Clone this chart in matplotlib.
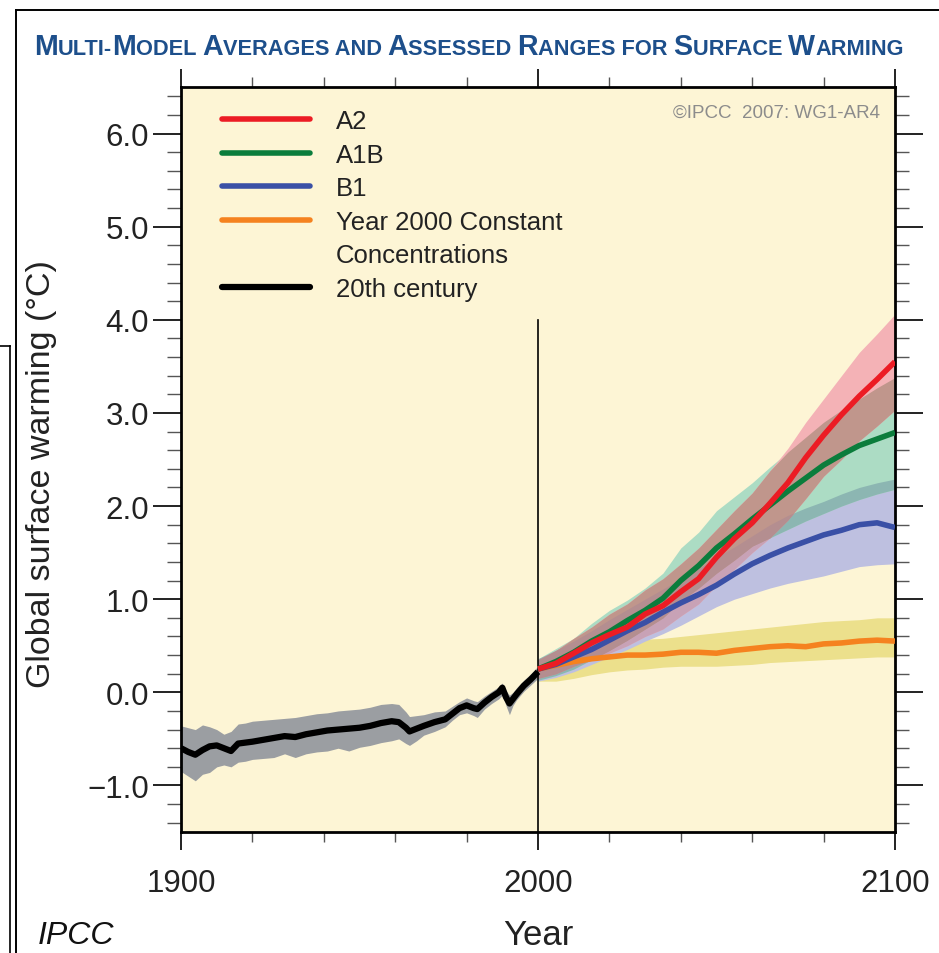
import matplotlib
matplotlib.use("Agg")
import numpy as np
import matplotlib.pyplot as plt
from matplotlib.lines import Line2D
from matplotlib.offsetbox import TextArea, HPacker, AnchoredOffsetbox
from matplotlib.ticker import MultipleLocator, FixedLocator, FuncFormatter

plt.rcParams['font.family'] = ['Liberation Sans', 'DejaVu Sans']

# ---- 20th century simulations (multi-model mean and range) ----
hist_years = [1900, 1902, 1904, 1906, 1908, 1910, 1912, 1914, 1916, 1918,
              1920, 1923, 1926, 1929, 1932, 1935, 1938, 1941, 1944, 1947,
              1950, 1953, 1956, 1959, 1961, 1963, 1964, 1966, 1968, 1971,
              1974, 1976, 1978, 1980, 1982, 1983, 1985, 1987, 1989, 1990,
              1991, 1992, 1993, 1994, 1996, 1998, 2000]
hist_mean = [-0.60, -0.64, -0.67, -0.62, -0.58, -0.57, -0.60, -0.63, -0.55, -0.54,
             -0.53, -0.51, -0.49, -0.47, -0.48, -0.45, -0.43, -0.41, -0.40, -0.39,
             -0.38, -0.36, -0.33, -0.31, -0.32, -0.38, -0.42, -0.39, -0.36, -0.32,
             -0.29, -0.23, -0.17, -0.14, -0.17, -0.18, -0.11, -0.05, 0.00, 0.05,
             -0.05, -0.12, -0.07, -0.02, 0.07, 0.14, 0.22]
hist_lo = [-0.85, -0.90, -0.95, -0.88, -0.86, -0.80, -0.78, -0.80, -0.75, -0.74,
           -0.72, -0.71, -0.70, -0.66, -0.70, -0.66, -0.64, -0.63, -0.60, -0.63,
           -0.59, -0.57, -0.54, -0.52, -0.50, -0.55, -0.57, -0.52, -0.46, -0.42,
           -0.37, -0.30, -0.24, -0.22, -0.25, -0.27, -0.18, -0.12, -0.07, -0.03,
           -0.14, -0.24, -0.14, -0.08, 0.01, 0.08, 0.15]
hist_hi = [-0.36, -0.38, -0.40, -0.35, -0.37, -0.40, -0.45, -0.42, -0.34, -0.33,
           -0.31, -0.30, -0.29, -0.28, -0.27, -0.25, -0.23, -0.22, -0.20, -0.19,
           -0.18, -0.16, -0.13, -0.12, -0.13, -0.21, -0.26, -0.25, -0.24, -0.21,
           -0.20, -0.15, -0.10, -0.06, -0.09, -0.10, -0.04, 0.01, 0.06, 0.10,
           0.02, -0.03, 0.00, 0.05, 0.13, 0.20, 0.28]

# ---- 21st century scenario projections ----
proj_years = [2000, 2005, 2010, 2015, 2020, 2025, 2030, 2035, 2040, 2045, 2050,
              2055, 2060, 2065, 2070, 2075, 2080, 2085, 2090, 2095, 2100]

a2_mean = [0.25, 0.31, 0.42, 0.53, 0.62, 0.70, 0.84, 0.93, 1.08, 1.22, 1.45,
           1.65, 1.82, 2.03, 2.25, 2.52, 2.76, 2.98, 3.18, 3.36, 3.55]
a2_lo = [0.15, 0.20, 0.28, 0.35, 0.42, 0.50, 0.60, 0.68, 0.82, 0.95, 1.15,
         1.32, 1.50, 1.66, 1.85, 2.08, 2.32, 2.50, 2.70, 2.86, 3.03]
a2_hi = [0.35, 0.45, 0.58, 0.70, 0.84, 0.95, 1.10, 1.22, 1.38, 1.55, 1.75,
         1.95, 2.14, 2.38, 2.62, 2.90, 3.15, 3.40, 3.65, 3.85, 4.06]

a1b_mean = [0.25, 0.33, 0.43, 0.55, 0.65, 0.77, 0.88, 1.01, 1.20, 1.36, 1.55,
            1.70, 1.86, 2.01, 2.16, 2.30, 2.44, 2.55, 2.65, 2.72, 2.79]
a1b_lo = [0.13, 0.18, 0.25, 0.35, 0.45, 0.56, 0.68, 0.80, 0.98, 1.12, 1.28,
          1.42, 1.57, 1.66, 1.75, 1.84, 1.92, 2.00, 2.07, 2.13, 2.18]
a1b_hi = [0.36, 0.47, 0.58, 0.74, 0.88, 0.99, 1.12, 1.28, 1.55, 1.72, 1.95,
          2.10, 2.25, 2.42, 2.58, 2.74, 2.90, 3.03, 3.15, 3.27, 3.38]

b1_mean = [0.25, 0.30, 0.38, 0.46, 0.56, 0.66, 0.75, 0.86, 0.96, 1.05, 1.15,
           1.27, 1.38, 1.47, 1.55, 1.62, 1.69, 1.74, 1.80, 1.82, 1.77]
b1_lo = [0.12, 0.16, 0.22, 0.30, 0.38, 0.46, 0.55, 0.63, 0.72, 0.82, 0.92,
         1.00, 1.06, 1.12, 1.17, 1.21, 1.25, 1.30, 1.35, 1.37, 1.38]
b1_hi = [0.36, 0.45, 0.55, 0.66, 0.78, 0.89, 1.00, 1.11, 1.22, 1.33, 1.45,
         1.56, 1.68, 1.80, 1.90, 1.98, 2.05, 2.13, 2.20, 2.25, 2.29]

const_mean = [0.25, 0.29, 0.33, 0.36, 0.38, 0.40, 0.40, 0.41, 0.43, 0.43, 0.42,
              0.45, 0.47, 0.49, 0.50, 0.49, 0.52, 0.53, 0.55, 0.56, 0.55]
const_lo = [0.12, 0.12, 0.15, 0.19, 0.22, 0.24, 0.25, 0.27, 0.28, 0.28, 0.28,
            0.29, 0.30, 0.32, 0.33, 0.34, 0.35, 0.36, 0.37, 0.38, 0.38]
const_hi = [0.35, 0.40, 0.45, 0.49, 0.52, 0.54, 0.57, 0.58, 0.60, 0.62, 0.64,
            0.66, 0.68, 0.70, 0.72, 0.74, 0.76, 0.77, 0.78, 0.80, 0.80]

legend_labels = ["A2", "A1B", "B1", "Year 2000 Constant", "Concentrations", "20th century"]
x_ticks = [1900, 2000, 2100]
y_ticks = [-1, 0, 1, 2, 3, 4, 5, 6]

# colours
C_A2, C_A2_BAND = "#ec1c24", "#f4b2b6"
C_A1B, C_A1B_BAND = "#0b7d3c", "#acdcc4"
C_B1, C_B1_BAND = "#3a50a6", "#bec0e0"
C_CONST, C_CONST_BAND = "#f5821f", "#ece08c"
C_HIST, C_HIST_BAND = "#000000", "#9b9ea2"
# where ranges overlap the tints combine (darker mixes)
C_A2_A1B = "#c0968c"
C_A1B_B1 = "#8cb6b2"
C_A2_B1 = "#c8a2b6"
C_A2_A1B_B1 = "#b48e90"
TEXT = "#222222"

fig = plt.figure(figsize=(9.39, 9.54), dpi=100)
fig.patch.set_facecolor("white")
ax = fig.add_axes([0.1928, 0.1268, 0.7603, 0.7810])
ax.set_facecolor("#fdf5d5")

# uncertainty ranges
ax.fill_between(hist_years, hist_lo, hist_hi, color=C_HIST_BAND, lw=0, zorder=2)
ax.fill_between(proj_years, const_lo, const_hi, color=C_CONST_BAND, lw=0, zorder=2)
ax.fill_between(proj_years, b1_lo, b1_hi, color=C_B1_BAND, lw=0, zorder=2)
ax.fill_between(proj_years, a1b_lo, a1b_hi, color=C_A1B_BAND, lw=0, zorder=2)
ax.fill_between(proj_years, a2_lo, a2_hi, color=C_A2_BAND, lw=0, zorder=2)


def shade_overlap(ranges, color):
    lo = np.max([np.asarray(r[0]) for r in ranges], axis=0)
    hi = np.min([np.asarray(r[1]) for r in ranges], axis=0)
    ax.fill_between(proj_years, lo, hi, where=hi > lo, interpolate=True,
                    color=color, lw=0, zorder=2)


A2_R, A1B_R, B1_R = (a2_lo, a2_hi), (a1b_lo, a1b_hi), (b1_lo, b1_hi)
shade_overlap([A1B_R, B1_R], C_A1B_B1)
shade_overlap([A2_R, B1_R], C_A2_B1)
shade_overlap([A2_R, A1B_R], C_A2_A1B)
shade_overlap([A2_R, A1B_R, B1_R], C_A2_A1B_B1)

# separator at year 2000
ax.plot([2000, 2000], [-1.5, 4.0], color="black", lw=1.2, zorder=3)

# multi-model means
ax.plot(proj_years, const_mean, color=C_CONST, lw=4, zorder=4, solid_capstyle="butt")
ax.plot(proj_years, b1_mean, color=C_B1, lw=4, zorder=4, solid_capstyle="butt")
ax.plot(proj_years, a1b_mean, color=C_A1B, lw=4, zorder=4, solid_capstyle="butt")
ax.plot(proj_years, a2_mean, color=C_A2, lw=4, zorder=5, solid_capstyle="butt")
ax.plot(hist_years, hist_mean, color=C_HIST, lw=4.5, zorder=5, solid_capstyle="butt")

ax.set_xlim(1900, 2100)
ax.set_ylim(-1.5, 6.5)

ax.xaxis.set_major_locator(FixedLocator(x_ticks))
ax.xaxis.set_minor_locator(MultipleLocator(20))
ax.yaxis.set_major_locator(FixedLocator(y_ticks))
ax.yaxis.set_minor_locator(MultipleLocator(0.2))
ax.yaxis.set_major_formatter(FuncFormatter(lambda v, p: f"{v:.1f}".replace("-", "\u2212")))

ax.tick_params(axis="y", which="major", direction="out", length=20, width=1.4,
               left=True, right=True, labelsize=22.5, labelcolor=TEXT, pad=3, color="#222222")
ax.tick_params(axis="y", which="minor", direction="out", length=10, width=1.0,
               left=True, right=True, color="#555555")
ax.tick_params(axis="x", which="major", direction="out", length=13, width=1.4,
               top=True, bottom=True, labelsize=22.5, labelcolor=TEXT, pad=13, color="#222222")
ax.tick_params(axis="x", which="minor", direction="out", length=7, width=1.0,
               top=True, bottom=True, color="#555555")
for s in ax.spines.values():
    s.set_linewidth(2.0)
    s.set_color("black")

ax.set_xlabel("Year", fontsize=25, color=TEXT, labelpad=14)
ax.set_ylabel("Global surface warming (\u00b0C)", fontsize=24.5, color=TEXT)
ax.yaxis.set_label_coords(-0.174, 0.482)

# legend
handles = [Line2D([], [], color=C_A2, lw=4, solid_capstyle="round"),
           Line2D([], [], color=C_A1B, lw=4, solid_capstyle="round"),
           Line2D([], [], color=C_B1, lw=4, solid_capstyle="round"),
           Line2D([], [], color=C_CONST, lw=4, solid_capstyle="round"),
           Line2D([], [], color="none", lw=0),
           Line2D([], [], color=C_HIST, lw=4.5, solid_capstyle="round")]
leg = ax.legend(handles, legend_labels, loc="upper left", bbox_to_anchor=(0.057, 0.970),
                frameon=False, fontsize=18.5, handlelength=3.45, handletextpad=0.98,
                labelspacing=0.37, borderpad=0, borderaxespad=0)
for t in leg.get_texts():
    t.set_color(TEXT)

ax.text(0.979, 0.978, "\u00a9IPCC  2007: WG1-AR4", transform=ax.transAxes,
        ha="right", va="top", fontsize=13.5, color="#8c8c8c")

# small-caps title
title_parts = [("M", True), ("ULTI-", False), ("M", True), ("ODEL ", False),
               ("A", True), ("VERAGES AND ", False), ("A", True), ("SSESSED ", False),
               ("R", True), ("ANGES FOR ", False), ("S", True), ("URFACE ", False),
               ("W", True), ("ARMING", False)]
boxes = [TextArea(s, textprops=dict(fontsize=20.6 if big else 15.7, fontweight="bold",
                                    color="#1d4f8b"))
         for s, big in title_parts]
title_box = HPacker(children=boxes, align="baseline", pad=0, sep=0)
fig.add_artist(AnchoredOffsetbox(loc="center", child=title_box, pad=0, borderpad=0,
                                 frameon=False, bbox_to_anchor=(0.4995, 0.951),
                                 bbox_transform=fig.transFigure))

# outer panel frame
fig.add_artist(Line2D([0.017, 1.0], [0.988, 0.988], transform=fig.transFigure, color="black", lw=1.4))
fig.add_artist(Line2D([0.017, 0.017], [0.988, 0.0], transform=fig.transFigure, color="black", lw=1.4))
fig.add_artist(Line2D([0.011, 0.011], [0.636, 0.0], transform=fig.transFigure, color="black", lw=1.2))
fig.add_artist(Line2D([0.0, 0.011], [0.636, 0.636], transform=fig.transFigure, color="black", lw=1.2))

fig.text(0.040, 0.019, "IPCC", fontsize=23, style="italic", color="#111111", ha="left", va="center")

fig.savefig("out.png", dpi=100)
